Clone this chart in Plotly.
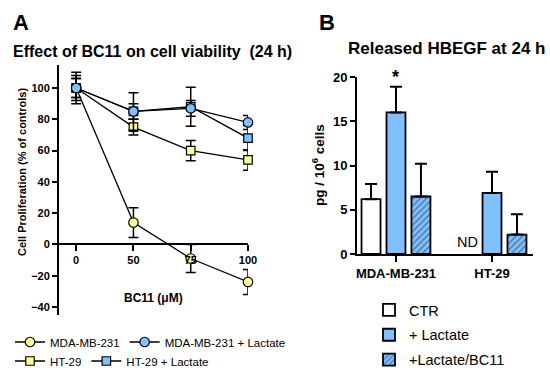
import plotly.graph_objects as go

W, H = 550, 379
FONT = "Liberation Sans, Arial, sans-serif"

# ---------------- Panel A data ----------------
bc11_doses = ["0", "50", "75", "100"]
mda = [100, 14, -9, -24]
mda_err = [10, 9.5, 9, 8]
mda_lac = [100, 85, 87, 78]
mda_lac_err = [6, 12, 5, 4.5]
ht29 = [100, 75, 60, 54]
ht29_err = [6, 5, 6.5, 6.5]
ht29_lac = [100, 85, 88, 68]
ht29_lac_err = [8, 5, 12.5, 8]

# ---------------- Panel B data ----------------
cell_lines = ["MDA-MB-231", "HT-29"]
ctr = [6.2, None]
ctr_err = [1.7, 0]
lactate = [16.0, 6.9]
lactate_err = [2.9, 2.4]
lactate_bc11 = [6.5, 2.2]
lactate_bc11_err = [3.7, 2.3]

YELLOW = "#ffff99"
BLUE = "#80c0ff"


def px_x(p):
    return p / W


def px_y(p):
    return 1 - p / H


fig = go.Figure()

xidx = list(range(len(bc11_doses)))


def add_line(name, vals, errs, symbol, color, size, legend):
    fig.add_trace(go.Scatter(
        x=xidx, y=vals, name=name, mode="lines+markers",
        line=dict(color="black", width=1.3),
        marker=dict(symbol=symbol, size=size, color=color,
                    line=dict(color="black", width=1.2)),
        error_y=dict(type="data", array=errs, visible=True,
                     color="black", thickness=1.5, width=5),
        cliponaxis=False, legend=legend,
        xaxis="x", yaxis="y",
    ))


add_line("MDA-MB-231", mda, mda_err, "circle", YELLOW, 9.5, "legend")
add_line("HT-29", ht29, ht29_err, "square", YELLOW, 8.5, "legend3")
add_line("HT-29 + Lactate", ht29_lac, ht29_lac_err, "square", BLUE, 8.5, "legend3")
add_line("MDA-MB-231 + Lactate", mda_lac, mda_lac_err, "circle", BLUE, 9.5, "legend")

bar_line = dict(color="black", width=1.8)
err_style = dict(type="data", symmetric=False, arrayminus=[0, 0],
                 color="black", thickness=2, width=6)
fig.add_trace(go.Bar(
    x=cell_lines, y=ctr, name="CTR",
    marker=dict(color="white", line=bar_line),
    error_y=dict(array=ctr_err, **err_style),
    xaxis="x2", yaxis="y2", legend="legend2", legendgroup="g1",
))
fig.add_trace(go.Bar(
    x=cell_lines, y=lactate, name="+ Lactate",
    marker=dict(color=BLUE, line=bar_line),
    error_y=dict(array=lactate_err, **err_style),
    xaxis="x2", yaxis="y2", legend="legend2", legendgroup="g2",
))
fig.add_trace(go.Bar(
    x=cell_lines, y=lactate_bc11, name="+Lactate/BC11",
    marker=dict(color=BLUE, line=bar_line,
                pattern=dict(shape="/", fgcolor="#0d2640", bgcolor=BLUE,
                             size=4.5, solidity=0.3)),
    error_y=dict(array=lactate_bc11_err, **err_style),
    xaxis="x2", yaxis="y2", legend="legend2", legendgroup="g3",
))

tickfA = dict(family=FONT, size=11, color="black", weight="bold")
tickfB = dict(family=FONT, size=13, color="black", weight="bold")

# y range of panel A from pixel geometry (100 at 88px, -40 at 307px)
ppu = (307 - 88) / 140
yA_top = 100 + (88 - 65) / ppu
yA_bot = -40 - (315 - 307) / ppu

bargap = 0.22
fig.update_layout(
    width=W, height=H,
    margin=dict(l=0, r=0, t=0, b=0, pad=0, autoexpand=False),
    paper_bgcolor="white", plot_bgcolor="rgba(0,0,0,0)",
    showlegend=True,
    barmode="group", bargap=bargap, bargroupgap=0.24,
    font=dict(family=FONT, color="black"),
    xaxis=dict(
        domain=[px_x(59), px_x(248)], range=[-0.3, 3.0],
        tickmode="array", tickvals=xidx, ticktext=bc11_doses,
        anchor="free", position=px_y(244),
        showline=True, linewidth=2, linecolor="black",
        ticks="outside", ticklen=6, tickwidth=2, tickcolor="black",
        tickfont=tickfA, showgrid=False, zeroline=False, automargin=False,
    ),
    yaxis=dict(
        domain=[px_y(315), px_y(65)], range=[yA_bot, yA_top],
        tickmode="array", tickvals=[-40, -20, 0, 20, 40, 60, 80, 100],
        anchor="x", showline=True, linewidth=2, linecolor="black",
        ticks="outside", ticklen=5, tickwidth=2, tickcolor="black",
        tickfont=tickfA, showgrid=False, zeroline=False, automargin=False,
    ),
    xaxis2=dict(
        domain=[px_x(357), px_x(533)], range=[-0.406, 1.427],
        anchor="y2", showline=True, linewidth=2, linecolor="black",
        ticks="outside", ticklen=6, tickwidth=2, tickcolor="black",
        tickfont=tickfB, showgrid=False, zeroline=False, automargin=False,
    ),
    yaxis2=dict(
        domain=[px_y(254), px_y(77)], range=[0, 20],
        tickmode="array", tickvals=[0, 5, 10, 15, 20],
        anchor="x2", showline=True, linewidth=2, linecolor="black",
        ticks="outside", ticklen=5, tickwidth=2, tickcolor="black",
        tickfont=tickfB, showgrid=False, zeroline=False, automargin=False,
    ),
    legend=dict(
        orientation="h", x=px_x(10), xanchor="left", y=px_y(342), yanchor="middle",
        font=dict(family=FONT, size=11.5, color="black"),
        bgcolor="rgba(0,0,0,0)", borderwidth=0, traceorder="normal",
    ),
    legend3=dict(
        orientation="h", x=px_x(10), xanchor="left", y=px_y(361), yanchor="middle",
        font=dict(family=FONT, size=11.5, color="black"),
        bgcolor="rgba(0,0,0,0)", borderwidth=0, traceorder="normal",
    ),
    legend2=dict(
        orientation="v", x=px_x(369), xanchor="left", y=px_y(294), yanchor="top",
        font=dict(family=FONT, size=14.5, color="black"),
        bgcolor="rgba(0,0,0,0)", borderwidth=0, tracegroupgap=3,
        traceorder="grouped",
    ),
)

annotations = [
    dict(text="<b>A</b>", x=px_x(11), y=px_y(22), xanchor="left", yanchor="middle",
         font=dict(size=22)),
    dict(text="<b>Effect of BC11 on cell viability  (24 h)</b>", x=px_x(11), y=px_y(51),
         xanchor="left", yanchor="middle", font=dict(size=16)),
    dict(text="<b>B</b>", x=px_x(317), y=px_y(22), xanchor="left", yanchor="middle",
         font=dict(size=22)),
    dict(text="<b>Released HBEGF at 24 h</b>", x=px_x(446), y=px_y(49),
         xanchor="center", yanchor="middle", font=dict(size=17)),
    dict(text="<b>Cell Proliferation (% of controls)</b>", x=px_x(22), y=px_y(172),
         xanchor="center", yanchor="middle", textangle=-90, font=dict(size=11)),
    dict(text="<b>BC11 (\u03bcM)</b>", x=px_x(153), y=px_y(298),
         xanchor="center", yanchor="middle", font=dict(size=12)),
    dict(text="<b>pg / 10<sup>6</sup> cells</b>", x=px_x(318), y=px_y(165),
         xanchor="center", yanchor="middle", textangle=-90, font=dict(size=13.5)),
]
for a in annotations:
    a.update(xref="paper", yref="paper", showarrow=False)
    a["font"].update(family=FONT, color="black")

slot = (1 - bargap) / 3
annotations += [
    dict(text="ND", x=1 - slot, y=0, xref="x2", yref="y2", xanchor="center",
         yanchor="bottom", yshift=2, showarrow=False,
         font=dict(family=FONT, size=14.5, color="black")),
    dict(text="<b>*</b>", x=0, y=lactate[0] + lactate_err[0], xref="x2", yref="y2",
         xanchor="center", yanchor="bottom", yshift=-2, showarrow=False,
         font=dict(family=FONT, size=18, color="black")),
]
fig.update_layout(annotations=annotations)

# remove the browser's default 8px body margin so the figure sits at (0, 0)
fig.write_html(
    "out.html",
    config={"displayModeBar": False},
    post_script="document.body.style.margin='0';document.body.style.padding='0';",
)
